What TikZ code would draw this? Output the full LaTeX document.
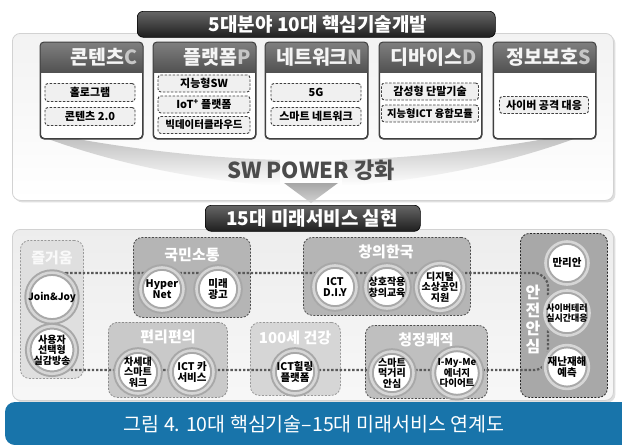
\documentclass[tikz,border=0pt]{standalone}
\usepackage{fontspec}
\setmainfont{Noto Sans CJK KR}
\usetikzlibrary{calc,shadows}
\definecolor{capblue}{RGB}{24,116,170}
\begin{document}
\begin{tikzpicture}[x=1pt,y=-1pt,
 panel/.style={rounded corners=8pt, draw=gray!35, line width=0.8pt, inner sep=0pt, anchor=north west},
 bannerbox/.style={rounded corners=6pt, top color=black!60, bottom color=black!88, draw=black, line width=0.6pt, inner sep=0pt, anchor=north west},
 bannertext/.style={text=white, font=\bfseries\fontsize{19}{20}\selectfont},
 catbox/.style={draw=black!75, line width=1pt, rounded corners=4pt, fill=white, minimum width=102pt, minimum height=96pt, inner sep=0pt, anchor=north west},
 cattitle/.style={text=gray!8, font=\bfseries\fontsize{19.5}{20}\selectfont, anchor=east, inner sep=0pt},
 techbox/.style={draw=black!75, dash pattern=on 2.5pt off 1.5pt, line width=0.9pt, rounded corners=3pt, fill=gray!12, minimum width=90pt, minimum height=18pt, inner sep=0pt, font=\bfseries\fontsize{11}{12}\selectfont},
 grp/.style={rounded corners=9pt, draw=black!70, dash pattern=on 2pt off 1.5pt, line width=0.8pt, inner sep=0pt, anchor=north west},
 grptitle/.style={text=white, font=\bfseries\fontsize{15}{16}\selectfont, inner sep=0pt},
 svc/.style={circle, fill=white, draw=gray!68, double=gray!32, double distance=2.6pt, line width=2pt, minimum size=43pt, inner sep=0pt, align=center, font=\bfseries\fontsize{10.5}{11}\selectfont},
 loopline/.style={draw=black!65, line width=2.2pt, dash pattern=on 2.4pt off 1.8pt, rounded corners=14pt},
]
\useasboundingbox (0,0) rectangle (622,445);
\fill[white] (0,0) rectangle (622,445);

% ---------- top panel ----------
\node[panel, top color=gray!10, bottom color=white, minimum width=601pt, minimum height=167pt,
  drop shadow={shadow xshift=2pt, shadow yshift=-2pt, opacity=0.25}] (topP) at (12,33) {};

% swoosh
\shade[top color=gray!55, bottom color=white] (40,132) .. controls (130,150) and (210,158) .. (280,160) -- (280,186) .. controls (205,181) and (120,166) .. (40,136) -- cycle;
\shade[top color=gray!55, bottom color=white] (582,132) .. controls (492,150) and (412,158) .. (342,160) -- (342,186) .. controls (417,181) and (502,166) .. (582,136) -- cycle;
\shade[top color=gray!70, bottom color=gray!35] (284,183) -- (338,183) -- (311,203) -- cycle;
\node[text=black!70, font=\bfseries\fontsize{22}{24}\selectfont] (swp) at (311,170) {SW POWER 강화};

% top banner
\node[bannerbox, minimum width=358pt, minimum height=26pt] (ban1) at (137,11) {};
\node[bannertext] (ban1t) at (318,24) {5대분야 10대 핵심기술개발};

% ---------- categories ----------
\newcommand{\mkcat}[4]{%
 \node[catbox] (#1) at (#2,42) {};
 \begin{scope}
  \clip[rounded corners=4pt] (#1.north west) rectangle (#1.south east);
  \shade[top color=black!50, bottom color=black!68] (#1.north west) rectangle ([yshift=-30pt]#1.north east);
 \end{scope}
 \draw[draw=black!75, line width=1pt, rounded corners=4pt] (#1.north west) rectangle (#1.south east);
 \node[cattitle] (#1t) at ([xshift=-5pt,yshift=-15pt]#1.north east) {#3\textcolor{gray!45}{#4}};
}
\mkcat{catC}{40}{콘텐츠}{C}
\mkcat{catP}{153}{플랫폼}{P}
\mkcat{catN}{265}{네트워크}{N}
\mkcat{catD}{379}{디바이스}{D}
\mkcat{catS}{493}{정보보호}{S}

\node[techbox] (c1) at (90,92.5) {홀로그램};
\node[techbox] (c2) at (90,116.5) {콘텐츠 2.0};
\node[techbox, minimum width=92pt, minimum height=17pt] (p1) at (204,83.5) {지능형SW};
\node[techbox, minimum width=92pt, minimum height=17pt] (p2) at (204,104.5) {IoT\textsuperscript{+} 플랫폼};
\node[techbox, minimum width=92pt, minimum height=17pt, font=\bfseries\fontsize{10.5}{11}\selectfont] (p3) at (204,125) {빅데이터클라우드};
\node[techbox] (n1) at (316,92.5) {5G};
\node[techbox] (n2) at (316,116.5) {스마트 네트워크};
\node[techbox, minimum width=97pt, minimum height=17pt] (d1) at (430,91.5) {감성형 단말기술};
\node[techbox, minimum width=97pt, minimum height=17pt, font=\bfseries\fontsize{10.3}{11}\selectfont] (d2) at (430,113.5) {지능형ICT 융합모듈};
\node[techbox, minimum width=89pt, minimum height=17pt] (s1) at (544,105) {사이버 공격 대응};

% ---------- bottom panel ----------
\node[panel, top color=gray!14, bottom color=gray!6, minimum width=601pt, minimum height=171pt,
  drop shadow={shadow xshift=2pt, shadow yshift=-2pt, opacity=0.25}] (botP) at (12,229) {};

\node[bannerbox, minimum width=215pt, minimum height=26pt] (ban2) at (205,205) {};
\node[bannertext] (ban2t) at (312,218) {15대 미래서비스 실현};

% groups
\node[grp, fill=gray!25, draw=black!40, minimum width=63pt, minimum height=138pt] (gJoy) at (20,240) {};
\node[grp, fill=gray!58, minimum width=117pt, minimum height=80pt] (gCom) at (133,237) {};
\node[grp, fill=gray!58, minimum width=167pt, minimum height=78pt] (gCre) at (303,237) {};
\node[grp, fill=gray!68, draw=black!85, minimum width=87pt, minimum height=164pt] (gSaf) at (520,233) {};
\node[grp, fill=gray!42, draw=black!45, minimum width=119pt, minimum height=75pt] (gCon) at (108,322) {};
\node[grp, fill=gray!32, draw=black!40, minimum width=90pt, minimum height=73pt] (gHea) at (250,322) {};
\node[grp, fill=gray!50, minimum width=122pt, minimum height=73pt] (gCle) at (365,325) {};

% dotted loop
\coordinate (lTL) at (52,273);
\coordinate (lTR) at (548,273);
\coordinate (lBR) at (548,370);
\coordinate (lBL) at (52,370);
\draw[loopline] (lTL) -- (lTR) -- (lBR) -- (lBL) -- cycle;

% group titles
\node[grptitle, text=gray!5] (tJoy) at (52,258) {즐거움};
\node[grptitle] (tCom) at (192,255) {국민소통};
\node[grptitle] (tCre) at (386,252) {창의한국};
\node[grptitle] (tCon) at (168,337) {편리편의};
\node[grptitle] (tHea) at (295,338) {100세 건강};
\node[grptitle] (tCle) at (426,340) {청정쾌적};
\node[text=white, font=\bfseries\fontsize{16}{18}\selectfont, align=center, inner sep=0pt] (tSaf) at (533,319) {안\\전\\안\\심};

% service circles
\node[svc, font=\bfseries\fontsize{10}{11}\selectfont] (jj) at (52,297) {Join\&Joy};
\node[svc, font=\bfseries\fontsize{10}{10.5}\selectfont] (sy) at (52,350) {사용자\\선택형\\실감방송};
\node[svc] (hn) at (162,289) {Hyper\\Net};
\node[svc] (mr) at (218,289) {미래\\광고};
\node[svc] (ictd) at (335,287) {ICT\\D.I.Y};
\node[svc, font=\bfseries\fontsize{10}{11}\selectfont] (sh) at (387,287) {상호작용\\창의교육};
\node[svc, font=\bfseries\fontsize{10}{10.5}\selectfont] (dj) at (440,287) {디지털\\소상공인\\지원};
\node[svc] (ml) at (567,263) {만리안};
\node[svc, font=\bfseries\fontsize{9}{9.5}\selectfont] (cy) at (567,313) {사이버테러\\실시간대응};
\node[svc] (jn) at (567,367) {재난재해\\예측};
\node[svc, font=\bfseries\fontsize{10}{10.5}\selectfont] (ch) at (138,372) {차세대\\스마트\\워크};
\node[svc] (ic) at (192,372) {ICT 카\\서비스};
\node[svc] (ih) at (295,372) {ICT힐링\\플랫폼};
\node[svc, font=\bfseries\fontsize{10}{10.5}\selectfont] (sm) at (392,373) {스마트\\먹거리\\안심};
\node[svc, font=\bfseries\fontsize{9.5}{10.5}\selectfont] (im) at (457,373) {I-My-Me\\에너지\\다이어트};

% ---------- caption ----------
\fill[capblue] (622,402) [rounded corners=10pt] -- (5,402) -- (5,445) [sharp corners] -- (622,445) -- cycle;
\node[text=white, font=\fontsize{19.5}{21}\selectfont] (cap) at (314,424) {그림 4. 10대 핵심기술–15대 미래서비스 연계도};
\end{tikzpicture}
\end{document}
